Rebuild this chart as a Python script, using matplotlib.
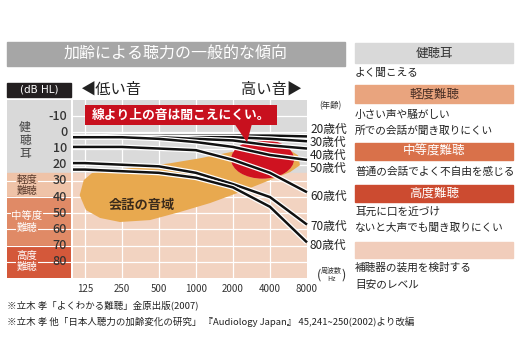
import numpy as np
import matplotlib
matplotlib.use("Agg")
import matplotlib.pyplot as plt
from matplotlib.patches import Polygon, Ellipse, Rectangle
import matplotlib.patheffects as pe

plt.rcParams['font.family'] = ['Noto Sans CJK JP', 'DejaVu Sans']

# --- data ---
freqs = [125, 250, 500, 1000, 2000, 4000, 8000]
freq_labels = ['125', '250', '500', '1000', '2000', '4000', '8000']
ages = ['20歳代', '30歳代', '40歳代', '50歳代', '60歳代', '70歳代', '80歳代']
hearing_20 = [3, 2, 2, 2, 2, 2, 2.5]
hearing_30 = [3, 3, 3, 3, 3, 4, 5.5]
hearing_40 = [3, 3, 3, 4, 5, 8, 10]
hearing_50 = [3, 3, 4, 6, 9, 14, 17]
hearing_60 = [9, 9, 10, 11, 17, 25, 37]
hearing_70 = [19, 20, 21, 25, 32, 40, 57]
hearing_80 = [23, 24, 25, 28, 34, 46, 68]
hearing = [hearing_20, hearing_30, hearing_40, hearing_50,
           hearing_60, hearing_70, hearing_80]
age_label_y = [129, 142, 155, 168, 196, 226, 245]   # px, label rows

db_ticks = [-10, 0, 10, 20, 30, 40, 50, 60, 70, 80]

# hearing level bands (dB)
band_edges = [-20, 25, 40, 70, 90]
band_colors = ['#d9d9d9', '#efc3a8', '#e08a66', '#d4583a']

# speech area outline (octaves above 125 Hz, dB)
speech_oct = [-0.14, -0.03, 0.19, 0.68, 1.49, 2.30, 3.11, 3.92, 4.73, 5.41,
              5.76, 5.81, 5.54, 5.00, 4.19, 3.38, 2.57, 1.76, 0.95, 0.41, 0.03]
speech_db = [38.8, 29.5, 25.2, 23.4, 21.5, 19.1, 16.0, 12.3, 9.2, 9.2,
             14.2, 20.3, 24.6, 29.5, 36.9, 43.7, 49.2, 54.2, 55.4, 52.9, 48.0]

W, H = 520, 360
def fx(px):
    return px / W
def fy(py):
    return 1 - py / H

fig = plt.figure(figsize=(5.2, 3.6), dpi=100)
fig.patch.set_facecolor('white')

# title banner
fig.patches.append(Rectangle((fx(7), fy(66)), fx(338), 24 / H,
                             transform=fig.transFigure, color='#a6a6a6'))
fig.text(fx(176), fy(54), '加齢による聴力の一般的な傾向', color='white',
         fontsize=11.5, ha='center', va='center')

# (dB HL) box
fig.patches.append(Rectangle((fx(7), fy(97)), fx(64), 14 / H,
                             transform=fig.transFigure, color='#231f20'))
fig.text(fx(39), fy(90), '(dB HL)', color='white', fontsize=7.5,
         ha='center', va='center', family='DejaVu Sans')

fig.text(fx(80), fy(89), '◀低い音', fontsize=11, ha='left', va='center', color='#222')
fig.text(fx(302), fy(89), '高い音▶', fontsize=11, ha='right', va='center', color='#222')

# --- main axes ---
xmin, xmax = -0.32, 6.0
ax = fig.add_axes([fx(73), fy(278), fx(234), 178 / H])
ax.set_xlim(xmin, xmax)
ax.set_ylim(90, -20)
ax.axhspan(-20, 25, color='#dadada', zorder=0)
ax.axhspan(25, 90, color='#f2d3c1', zorder=0)
for v in db_ticks:
    ax.axhline(v, color='white', lw=0.9, zorder=1)
for i in range(len(freqs) - 1):
    ax.axvline(i, color='white', lw=0.9, zorder=1)

ax.add_patch(Polygon(np.column_stack([speech_oct, speech_db]), closed=True,
                     facecolor='#e8a94f', edgecolor='none', zorder=2))
ax.text(1.55, 45, '会話の音域', fontsize=9.5, fontweight='bold',
        color='#3b2b1b', ha='center', va='center', zorder=3)

octs = np.log2(np.array(freqs) / 125.0)
xs = np.concatenate([[xmin], octs])

# red area: pale above the 30s line, red below it
pale = Ellipse((4.8, 16.6), 1.7, 24, facecolor='#f0b0b0', edgecolor='none', zorder=2.5)
ax.add_patch(pale)
red = Ellipse((4.8, 16.6), 1.7, 24, facecolor='#cf1220', edgecolor='none', zorder=2.6)
ax.add_patch(red)
ys30 = np.concatenate([[hearing_30[0]], hearing_30])
clip_poly = Polygon(np.column_stack([np.concatenate([xs, [xmax, xmin]]),
                                     np.concatenate([ys30, [90, 90]])]),
                    closed=True, transform=ax.transData, visible=False)
ax.add_patch(clip_poly)
red.set_clip_path(clip_poly)

for vals in hearing:
    ys = np.concatenate([[vals[0]], vals])
    ax.plot(xs, ys, color='#111111', lw=1.8, zorder=4, solid_capstyle='butt',
            clip_on=False,
            path_effects=[pe.Stroke(linewidth=3.6, foreground='white'), pe.Normal()])

# callout
ax.add_patch(Rectangle((0.0, -16.8), 5.19, 12.3, facecolor='#c8101e',
                       edgecolor='none', zorder=5))
ax.add_patch(Polygon([[4.05, -5.0], [4.51, -5.0], [4.38, 6.2]], closed=True,
                     facecolor='#c8101e', edgecolor='none', zorder=5))
ax.text(2.6, -10.6, '線より上の音は聞こえにくい。', color='white', fontsize=9.2,
        fontweight='bold', ha='center', va='center', zorder=6)

ax.set_xticks(range(len(freqs)))
ax.set_xticklabels(freq_labels, fontsize=7, color='#333')
ax.tick_params(axis='x', length=0, pad=4)
ax.set_yticks([])
for s in ax.spines.values():
    s.set_visible(False)

# --- left band panel ---
lax = fig.add_axes([fx(7), fy(278), fx(64), 178 / H])
lax.set_xlim(0, 1)
lax.set_ylim(90, -20)
for k in range(len(band_colors)):
    lax.axhspan(band_edges[k], band_edges[k + 1], color=band_colors[k], zorder=0)
for v in db_ticks:
    if v >= 30:
        lax.axhline(v, color='white', lw=0.8, zorder=1)
for v in db_ticks:
    lax.text(0.94, v, str(v), fontsize=9, fontweight='medium', ha='right',
             va='center', color='#333', zorder=3)
lax.axis('off')

def band_label(txt, px, py, fc, col, size):
    fig.text(fx(px), fy(py), txt, fontsize=size, ha='center', va='center', color=col,
             zorder=5, bbox=dict(boxstyle='square,pad=0.05', fc=fc, ec='none'))

band_label('健', 25, 127, band_colors[0], '#444', 8.5)
band_label('聴', 25, 140, band_colors[0], '#444', 8.5)
band_label('耳', 25, 153, band_colors[0], '#444', 8.5)
band_label('軽度', 27, 180, band_colors[1], '#5a3a2c', 7.5)
band_label('難聴', 27, 191, band_colors[1], '#5a3a2c', 7.5)
band_label('中等度', 27, 216, band_colors[2], 'white', 7.5)
band_label('難聴', 27, 228, band_colors[2], 'white', 7.5)
band_label('高度', 27, 256, band_colors[3], 'white', 7.5)
band_label('難聴', 27, 267, band_colors[3], 'white', 7.5)

# age labels
fig.text(fx(330), fy(106), '(年齢)', fontsize=6, ha='center', va='center', color='#333')
for lab, py in zip(ages, age_label_y):
    fig.text(fx(310), fy(py), lab, fontsize=8.5, ha='left', va='center', color='#222')

fig.text(fx(331), fy(275), '周波数\nHz', fontsize=5, ha='center', va='center',
         color='#333', linespacing=1.0)
fig.text(fx(319), fy(275), '(', fontsize=9, ha='center', va='center', color='#333')
fig.text(fx(344), fy(275), ')', fontsize=9, ha='center', va='center', color='#333')

# --- right legend panel ---
legend_bars = [(43, 63, '#d9d9d9', '健聴耳', '#333'),
               (85, 103, '#e9a47e', '軽度難聴', '#4a3026'),
               (143, 160, '#d9714a', '中等度難聴', 'white'),
               (185, 202, '#cc4b30', '高度難聴', 'white'),
               (242, 258, '#f1cdbb', '', 'white')]
for top, bot, col, txt, tcol in legend_bars:
    fig.patches.append(Rectangle((fx(355), fy(bot)), fx(158), (bot - top) / H,
                                 transform=fig.transFigure, color=col))
    if txt:
        fig.text(fx(434), fy((top + bot) / 2), txt, fontsize=9, ha='center',
                 va='center', color=tcol)

desc = [(73, 'よく聞こえる'),
        (115, '小さい声や騒がしい'),
        (131, '所での会話が聞き取りにくい'),
        (172, '普通の会話でよく不自由を感じる'),
        (212, '耳元に口を近づけ'),
        (228, 'ないと大声でも聞き取りにくい'),
        (268, '補聴器の装用を検討する'),
        (285, '目安のレベル')]
for py, txt in desc:
    fig.text(fx(355), fy(py), txt, fontsize=7.7, ha='left', va='center', color='#222')

# footnotes
fig.text(fx(7), fy(305), '※立木 孝「よくわかる難聴」金原出版(2007)', fontsize=6.8,
         ha='left', va='center', color='#222')
fig.text(fx(7), fy(322),
         '※立木 孝 他「日本人聴力の加齢変化の研究」 『Audiology Japan』 45,241~250(2002)より改編',
         fontsize=6.8, ha='left', va='center', color='#222')

fig.savefig('out.png', dpi=100)
